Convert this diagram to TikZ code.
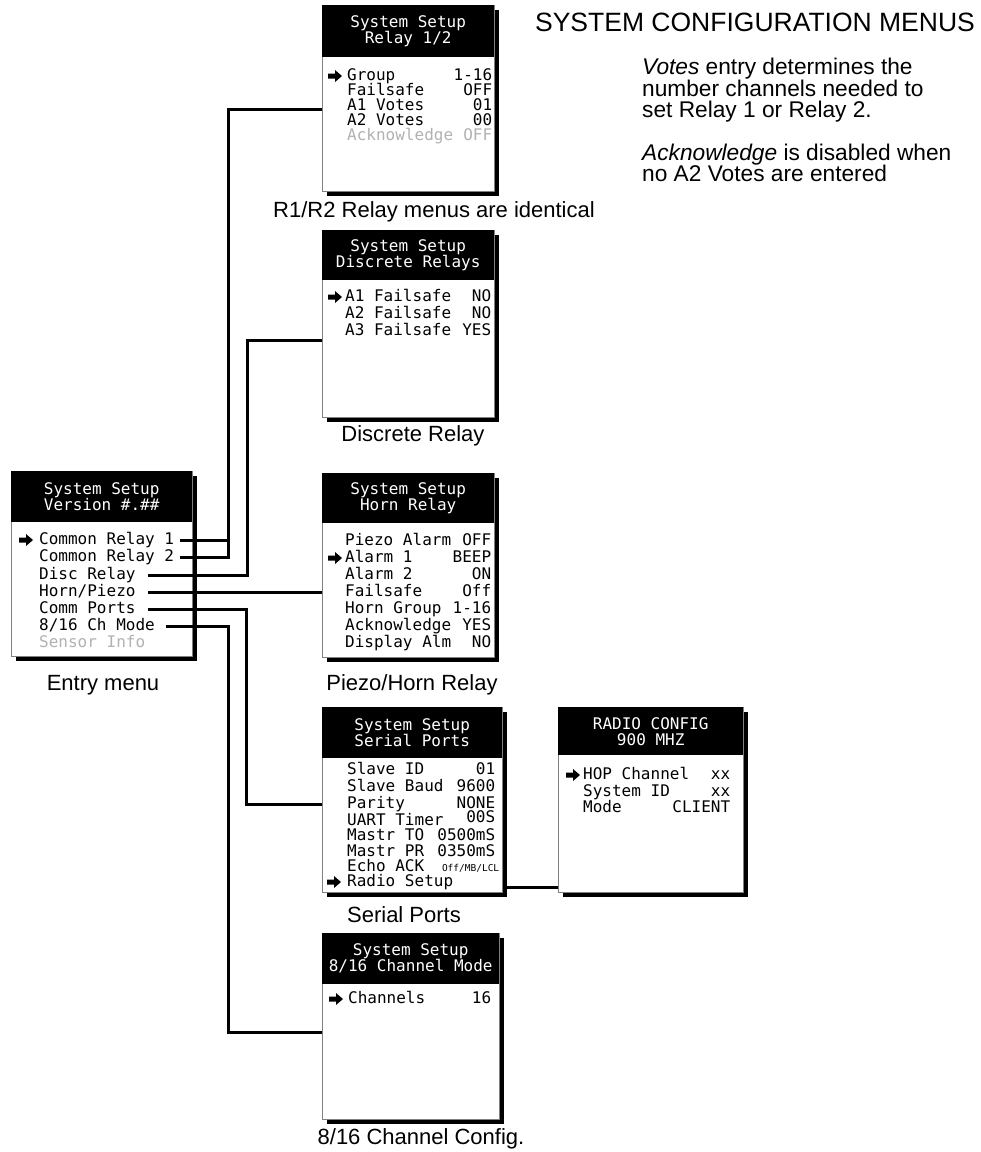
\documentclass[tikz,border=0pt]{standalone}
\usepackage{fontspec}
\setmainfont{Liberation Sans}
\newfontfamily\lcdfont{DejaVu Sans Mono}
\usetikzlibrary{positioning,shadows}

\newcommand{\kv}[3]{\hbox to #1{#2\hfill #3}}

\tikzset{
  menu/.style={draw=gray, line width=0.8pt, fill=white, anchor=north west, inner sep=0pt,
    drop shadow={shadow xshift=5pt, shadow yshift=-5pt, fill=black, opacity=1}},
  head/.style={fill=black, text=white, anchor=north west, inner sep=0pt, align=center,
    font=\lcdfont\fontsize{16}{16}\selectfont},
  item/.style={anchor=west, inner sep=0pt, text height=10pt, text depth=2pt,
    font=\lcdfont\fontsize{16}{16}\selectfont},
  off/.style={text=black!30},
  caption/.style={font=\fontsize{22}{24}\selectfont},
  note/.style={anchor=north west, inner sep=0pt, align=left, font=\fontsize{22.7}{21.5}\selectfont},
  wire/.style={line width=3pt},
  selarrow/.pic={\fill (-7,-2.5) -- (0,-2.5) -- (0,-6) -- (7,0) -- (0,6) -- (0,2.5) -- (-7,2.5) -- cycle;}
}

\begin{document}
\begin{tikzpicture}[x=1pt,y=-1pt]
\useasboundingbox (0,0) rectangle (981,1152);

% entry menu
\node[menu, minimum width=181pt, minimum height=185pt] (entry) at (11,471) {};
\node[head, minimum width=181pt, minimum height=51pt] (entryhead) at (entry.north west) {System Setup\\Version \#.\#\#};
\pic at (26,540) {selarrow};
\node[item] (cr1) at (39,540) {Common Relay 1};
\node[item] (cr2) at (39,557) {Common Relay 2};
\node[item] (disc) at (39,575) {Disc Relay};
\node[item] (horn) at (39,592) {Horn/Piezo};
\node[item] (comm) at (39,609) {Comm Ports};
\node[item] (mode) at (39,626) {8/16 Ch Mode};
\node[item, off] (sensor) at (39,643) {Sensor Info};
\node[caption] (entrycap) at (103,685) {Entry menu};

% relay 1/2
\node[menu, minimum width=172pt, minimum height=186pt] (relay) at (322,5) {};
\node[head, minimum width=172pt, minimum height=52pt] (relayhead) at (relay.north west) {System Setup\\Relay 1/2};
\pic at (335,76) {selarrow};
\node[item] (rl1) at (347,76) {\kv{145pt}{Group}{1-16}};
\node[item] (rl2) at (347,91) {\kv{145pt}{Failsafe}{OFF}};
\node[item] (rl3) at (347,106) {\kv{145pt}{A1 Votes}{01}};
\node[item] (rl4) at (347,121) {\kv{145pt}{A2 Votes}{00}};
\node[item, off] (rl5) at (347,136) {\kv{145pt}{Acknowledge}{OFF}};
\node[caption] (relaycap) at (434,212) {R1/R2 Relay menus are identical};

% discrete relays
\node[menu, minimum width=172pt, minimum height=187pt] (discrete) at (322,230) {};
\node[head, minimum width=172pt, minimum height=50pt] (discretehead) at (discrete.north west) {System Setup\\Discrete Relays};
\pic at (335,297) {selarrow};
\node[item] (dr1) at (345,297) {\kv{146pt}{A1 Failsafe}{NO}};
\node[item] (dr2) at (345,314) {\kv{146pt}{A2 Failsafe}{NO}};
\node[item] (dr3) at (345,331) {\kv{146pt}{A3 Failsafe}{YES}};
\node[caption] (discretecap) at (413,436) {Discrete Relay};

% horn relay
\node[menu, minimum width=172pt, minimum height=184pt] (hornbox) at (322,473) {};
\node[head, minimum width=172pt, minimum height=50pt] (hornhead) at (hornbox.north west) {System Setup\\Horn Relay};
\pic at (335,558) {selarrow};
\node[item] (hr1) at (345,541) {\kv{146pt}{Piezo Alarm}{OFF}};
\node[item] (hr2) at (345,558) {\kv{146pt}{Alarm 1}{BEEP}};
\node[item] (hr3) at (345,575) {\kv{146pt}{Alarm 2}{ON}};
\node[item] (hr4) at (345,592) {\kv{146pt}{Failsafe}{Off}};
\node[item] (hr5) at (345,609) {\kv{146pt}{Horn Group}{1-16}};
\node[item] (hr6) at (345,626) {\kv{146pt}{Acknowledge}{YES}};
\node[item] (hr7) at (345,643) {\kv{146pt}{Display Alm}{NO}};
\node[caption] (horncap) at (412,685) {Piezo/Horn Relay};

% serial ports
\node[menu, minimum width=180pt, minimum height=185pt] (serial) at (322,707) {};
\node[head, minimum width=180pt, minimum height=51pt] (serialhead) at (serial.north west) {System Setup\\Serial Ports};
\node[item] (sp1) at (347,770) {\kv{148pt}{Slave ID}{01}};
\node[item] (sp2) at (347,787) {\kv{148pt}{Slave Baud}{9600}};
\node[item] (sp3) at (347,804) {\kv{148pt}{Parity}{NONE}};
\node[item] (sp4) at (347,821) {\kv{148pt}{UART Timer}{\raisebox{3pt}{00S}}};
\node[item] (sp5) at (347,836) {\kv{148pt}{Mastr TO}{0500mS}};
\node[item] (sp6) at (347,852) {\kv{148pt}{Mastr PR}{0350mS}};
\node[item] (sp7) at (347,867) {\kv{152pt}{Echo ACK}{\fontsize{9.5}{10}\selectfont Off/MB/LCL}};
\pic at (334,882) {selarrow};
\node[item] (sp8) at (347,882) {Radio Setup};
\node[caption] (serialcap) at (404,915) {Serial Ports};

% radio config
\node[menu, minimum width=185pt, minimum height=185pt] (radio) at (558,707) {};
\node[head, minimum width=185pt, minimum height=48pt] (radiohead) at (radio.north west) {RADIO CONFIG\\900 MHZ};
\pic at (573,775) {selarrow};
\node[item] (rc1) at (583,775) {\kv{147pt}{HOP Channel}{xx}};
\node[item] (rc2) at (583,792) {\kv{147pt}{System ID}{xx}};
\node[item] (rc3) at (583,808) {\kv{147pt}{Mode}{CLIENT}};

% 8/16 channel mode
\node[menu, minimum width=177pt, minimum height=186pt] (chan) at (322,933) {};
\node[head, minimum width=177pt, minimum height=51pt] (chanhead) at (chan.north west) {System Setup\\8/16 Channel Mode};
\pic at (336,999) {selarrow};
\node[item] (ch1) at (348,999) {\kv{143pt}{Channels}{16}};
\node[caption] (chancap) at (421,1139) {8/16 Channel Config.};

% notes
\node[font=\fontsize{26.5}{30}\selectfont] (title) at (755,22) {SYSTEM CONFIGURATION MENUS};
\node[note] (votes) at (642,58) {\textit{Votes} entry determines the\\number channels needed to\\set Relay 1 or Relay 2.};
\node[note] (ack) at (642,143.5) {\textit{Acknowledge} is disabled when\\no A2 Votes are entered};

% connectors
\coordinate (j1) at (228,109);
\coordinate (j2) at (247,340);
\coordinate (j3) at (246,804);
\coordinate (j4) at (228,1032);
\coordinate (j5) at (503,887);
\draw[wire, shorten <=6pt] (cr1.east) -| (j1) -- (j1 -| relay.west);
\draw[wire, shorten <=6pt] (cr2.east) -| (j1);
\draw[wire, shorten <=12pt] (disc.east) -| (j2) -- (j2 -| discrete.west);
\draw[wire, shorten <=12pt] (horn.east) -- (horn.east -| hornbox.west);
\draw[wire, shorten <=12pt] (comm.east) -| (j3) -- (j3 -| serial.west);
\draw[wire, shorten <=11pt] (mode.east) -| (j4) -- (j4 -| chan.west);
\draw[wire] (j5) -- (j5 -| radio.west);
\end{tikzpicture}
\end{document}
